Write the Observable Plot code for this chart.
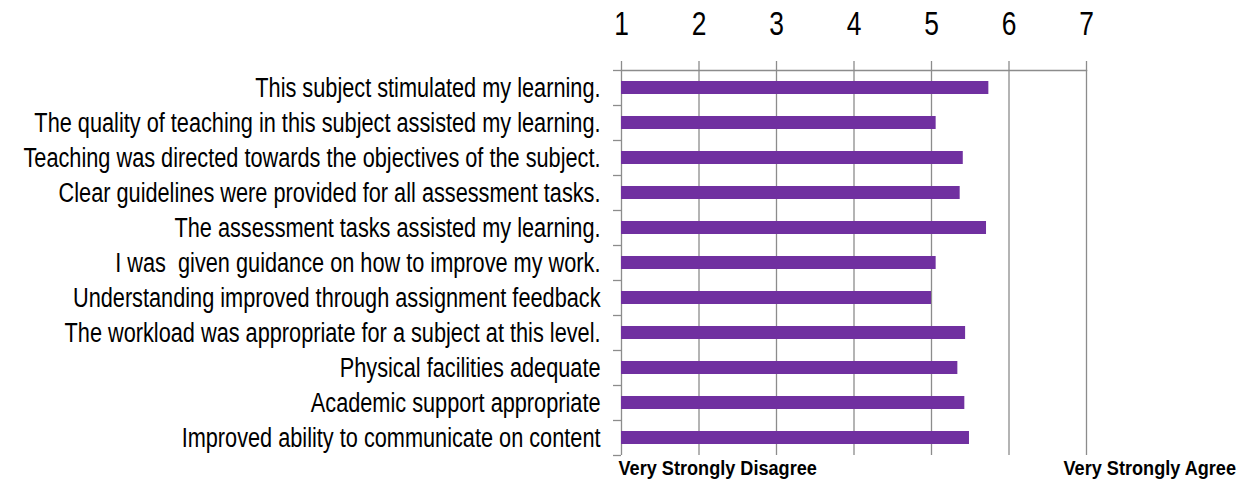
<!DOCTYPE html>
<html>
<head>
<meta charset="utf-8">
<script src="https://cdn.jsdelivr.net/npm/d3@7"></script>
<script src="https://cdn.jsdelivr.net/npm/@observablehq/plot@0.6"></script>
<style>
  html, body { margin: 0; padding: 0; background: #fff; }
  #chart svg { display: block; }
</style>
</head>
<body>
<div id="chart"></div>
<script>
const categories = [
  "This subject stimulated my learning.",
  "The quality of teaching in this subject assisted my learning.",
  "Teaching was directed towards the objectives of the subject.",
  "Clear guidelines were provided for all assessment tasks.",
  "The assessment tasks assisted my learning.",
  "I was  given guidance on how to improve my work.",
  "Understanding improved through assignment feedback",
  "The workload was appropriate for a subject at this level.",
  "Physical facilities adequate",
  "Academic support appropriate",
  "Improved ability to communicate on content"
];
const scores = [5.74, 5.06, 5.41, 5.37, 5.71, 5.06, 5.00, 5.44, 5.34, 5.43, 5.49];
const scaleTicks = [1, 2, 3, 4, 5, 6, 7];
const endLabels = ["Very Strongly Disagree", "Very Strongly Agree"];

const data = categories.map((c, i) => ({category: c, score: scores[i]}));
const font = "'Liberation Sans', Arial, sans-serif";
const grid = "#8c8c8c";

const chart = Plot.plot({
  width: 1241,
  height: 486,
  marginTop: 70,
  marginBottom: 31,
  marginLeft: 621,
  marginRight: 155,
  style: {fontFamily: font, color: "#000", background: "#fff"},
  x: {domain: [scaleTicks[0], scaleTicks[scaleTicks.length - 1]]},
  y: {domain: categories, padding: 0},
  marks: [
    Plot.gridX(scaleTicks, {stroke: grid, strokeOpacity: 1, strokeWidth: 1.3}),
    Plot.frame({anchor: "top", stroke: grid, strokeWidth: 1.3}),
    Plot.axisX({anchor: "top", ticks: scaleTicks, tickSize: 10, tickPadding: 26, fontSize: 33, label: null, stroke: grid, strokeWidth: 1.3, tickFormat: d => d}),
    Plot.axisY({tickSize: 0, tickPadding: 21, fontSize: 28, label: null}),
    Plot.axisY({tickSize: 8, text: null, dy: -17.5, stroke: grid, strokeWidth: 1.3, label: null}),
    Plot.axisY({ticks: categories.slice(-1), tickSize: 8, text: null, dy: 17.5, stroke: grid, strokeWidth: 1.3, label: null}),
    Plot.barX(data, {y: "category", x1: scaleTicks[0], x2: "score", fill: "#7030a0", insetTop: 11, insetBottom: 11}),
    Plot.text([endLabels[0]], {frameAnchor: "bottom-left", text: d => d, textAnchor: "start", dx: -3, dy: 19, fontSize: 19.5, fontWeight: "bold"}),
    Plot.text([endLabels[1]], {frameAnchor: "bottom-right", text: d => d, textAnchor: "start", dx: -23, dy: 19, fontSize: 19.5, fontWeight: "bold"})
  ]
});

// Emulate a narrow (condensed) typeface by compressing text horizontally around its anchor.
function condense(selector, s) {
  chart.querySelectorAll(selector).forEach(el => {
    const x = el.getAttribute("x");
    let t = el.getAttribute("transform") || "";
    if (x !== null) { t += ` translate(${x},0)`; el.removeAttribute("x"); }
    el.setAttribute("transform", (t + ` scale(${s},1)`).trim());
  });
}
condense('g[aria-label="y-axis tick label"] text', 0.776);
condense('g[aria-label="x-axis tick label"] text', 0.8);
condense('g[aria-label="text"] text', 0.93);
document.getElementById("chart").append(chart);
</script>
</body>
</html>
